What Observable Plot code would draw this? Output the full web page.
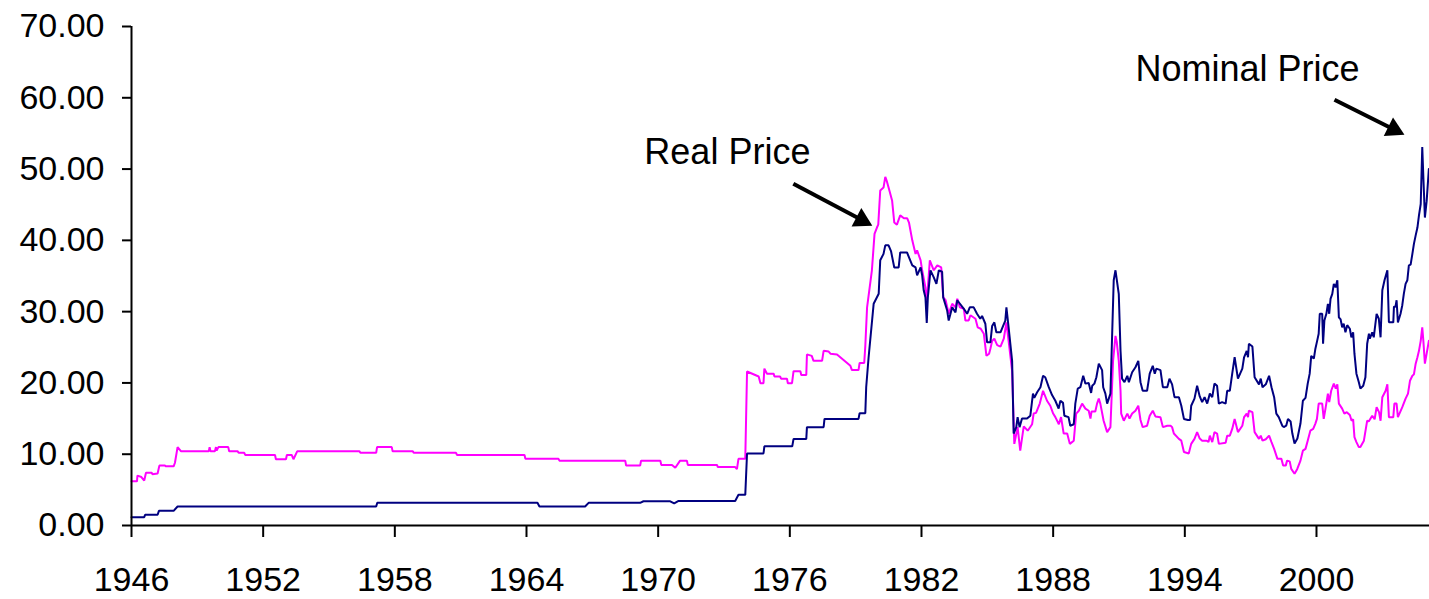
<!DOCTYPE html>
<html>
<head>
<meta charset="utf-8">
<script src="https://cdn.jsdelivr.net/npm/d3@7"></script>
<script src="https://cdn.jsdelivr.net/npm/@observablehq/plot@0.6"></script>
<style>
  html, body { margin: 0; padding: 0; background: #fff; }
  #chart { width: 1429px; height: 599px; }
</style>
</head>
<body>
<div id="chart"></div>
<script>
// ---- Data ----
const nominal = [[1946.00,1.17],[1946.58,1.17],[1946.62,1.5],[1947.19,1.5],[1947.25,2.06],[1947.92,2.06],[1948.10,2.66],[1957.15,2.66],[1957.20,3.18],[1964.50,3.18],[1964.59,2.66],[1966.67,2.66],[1966.83,3.18],[1969.18,3.18],[1969.33,3.4],[1970.55,3.4],[1970.73,3.1],[1970.93,3.45],[1973.51,3.45],[1973.66,4.3],[1973.97,4.3],[1974.05,10.1],[1974.80,10.1],[1974.84,11.1],[1976.11,11.1],[1976.17,12.15],[1976.75,12.15],[1976.78,13.8],[1977.54,13.8],[1977.58,14.95],[1979.13,14.95],[1979.18,15.75],[1979.44,15.75],[1979.48,19.4],[1979.59,23.6],[1979.82,31.1],[1980.05,32.5],[1980.12,37.2],[1980.27,38.1],[1980.35,39.3],[1980.50,39.3],[1980.61,38.5],[1980.76,36.2],[1980.96,36.2],[1981.03,38.3],[1981.34,38.3],[1981.58,36.5],[1981.73,36.2],[1981.80,35.1],[1981.96,36.2],[1982.03,35.1],[1982.10,33.0],[1982.18,32.0],[1982.24,28.4],[1982.29,32.0],[1982.41,35.8],[1982.56,34.8],[1982.68,33.9],[1982.79,35.8],[1982.94,35.6],[1982.99,32.0],[1983.17,30.15],[1983.24,28.75],[1983.40,30.6],[1983.55,29.9],[1983.63,31.6],[1983.78,31.0],[1983.93,30.4],[1984.08,29.7],[1984.20,30.6],[1984.38,30.6],[1984.53,29.7],[1984.68,29.0],[1984.76,29.4],[1984.91,28.3],[1984.99,25.7],[1985.14,25.7],[1985.22,28.0],[1985.32,28.5],[1985.41,27.1],[1985.60,27.1],[1985.72,28.0],[1985.82,28.75],[1985.87,30.6],[1985.97,27.8],[1986.13,23.1],[1986.20,12.9],[1986.32,13.8],[1986.38,15.2],[1986.47,13.8],[1986.58,15.0],[1986.81,15.0],[1986.96,15.4],[1987.08,18.5],[1987.14,17.9],[1987.27,18.7],[1987.42,19.4],[1987.54,21.0],[1987.64,20.8],[1987.80,19.4],[1987.95,18.3],[1988.10,17.5],[1988.25,16.4],[1988.33,17.5],[1988.45,17.2],[1988.51,15.4],[1988.70,15.2],[1988.78,14.0],[1988.94,14.2],[1989.01,17.1],[1989.12,19.2],[1989.24,19.4],[1989.37,21.0],[1989.47,19.9],[1989.62,20.0],[1989.73,18.6],[1989.78,19.6],[1989.88,19.9],[1989.97,20.8],[1990.08,22.7],[1990.23,21.8],[1990.28,19.4],[1990.38,18.5],[1990.46,17.1],[1990.61,18.5],[1990.76,34.4],[1990.84,35.8],[1990.99,32.5],[1991.07,24.5],[1991.14,20.6],[1991.25,20.1],[1991.38,21.0],[1991.45,20.1],[1991.60,21.5],[1991.75,22.2],[1991.88,23.1],[1991.98,20.1],[1992.08,18.9],[1992.28,18.9],[1992.40,21.3],[1992.54,22.4],[1992.63,21.3],[1992.70,22.0],[1992.89,21.8],[1993.00,19.4],[1993.20,19.4],[1993.30,20.6],[1993.42,19.8],[1993.53,18.0],[1993.73,18.0],[1993.84,16.8],[1993.96,14.95],[1994.14,14.8],[1994.24,14.8],[1994.29,16.8],[1994.44,17.8],[1994.56,19.6],[1994.68,18.1],[1994.79,17.3],[1994.90,18.0],[1995.02,17.1],[1995.14,18.5],[1995.25,18.0],[1995.35,19.9],[1995.47,19.6],[1995.55,17.1],[1995.70,17.3],[1995.86,17.1],[1995.93,18.9],[1996.05,18.9],[1996.16,21.3],[1996.27,23.6],[1996.42,20.6],[1996.62,22.0],[1996.70,23.6],[1996.82,24.5],[1996.88,23.6],[1996.92,25.5],[1997.08,25.1],[1997.18,20.8],[1997.38,19.8],[1997.46,20.6],[1997.54,19.4],[1997.69,19.8],[1997.84,21.0],[1997.95,19.4],[1998.07,18.0],[1998.17,15.7],[1998.28,15.2],[1998.44,14.0],[1998.51,13.8],[1998.62,14.0],[1998.70,14.95],[1998.82,14.6],[1998.90,12.9],[1999.00,11.5],[1999.13,12.2],[1999.27,14.3],[1999.38,17.5],[1999.50,17.9],[1999.60,19.9],[1999.69,21.3],[1999.76,23.8],[1999.88,23.4],[1999.95,24.8],[2000.03,25.9],[2000.10,26.9],[2000.15,29.7],[2000.26,29.7],[2000.30,25.5],[2000.36,28.75],[2000.45,29.7],[2000.52,31.1],[2000.58,29.7],[2000.64,31.8],[2000.72,32.5],[2000.79,33.9],[2000.87,33.4],[2000.95,34.4],[2001.02,29.2],[2001.10,28.9],[2001.17,27.8],[2001.24,28.3],[2001.32,27.1],[2001.40,28.1],[2001.52,27.6],[2001.59,26.4],[2001.67,27.1],[2001.73,24.1],[2001.82,21.3],[2001.93,20.1],[2002.00,19.2],[2002.13,19.6],[2002.23,20.8],[2002.31,25.5],[2002.39,26.9],[2002.43,26.2],[2002.54,27.1],[2002.61,26.4],[2002.74,29.7],[2002.84,29.0],[2002.92,26.4],[2003.00,33.0],[2003.10,34.4],[2003.23,35.8],[2003.30,28.5],[2003.50,28.5],[2003.53,30.7],[2003.60,30.7],[2003.65,31.6],[2003.71,28.5],[2003.83,29.7],[2003.91,30.9],[2003.98,32.5],[2004.06,33.9],[2004.14,34.4],[2004.21,36.5],[2004.29,36.6],[2004.37,38.1],[2004.44,39.5],[2004.52,40.7],[2004.60,41.8],[2004.67,43.5],[2004.75,45.1],[2004.82,53.1],[2004.87,48.9],[2004.94,43.2],[2005.02,45.5],[2005.12,50.0]];

const real = [[1946.00,6.2],[1946.25,6.2],[1946.27,7.0],[1946.45,6.8],[1946.58,6.3],[1946.66,7.4],[1946.92,7.4],[1946.95,7.2],[1947.19,7.3],[1947.27,8.4],[1947.53,8.4],[1947.56,8.3],[1947.92,8.3],[1947.98,8.8],[1948.10,11.0],[1948.26,10.4],[1949.52,10.4],[1949.56,11.0],[1949.60,10.4],[1949.80,10.4],[1949.85,11.0],[1949.88,10.5],[1949.96,11.0],[1950.41,11.0],[1950.45,10.4],[1950.84,10.4],[1950.88,10.2],[1951.14,10.2],[1951.18,9.9],[1952.54,9.9],[1952.58,9.3],[1953.04,9.3],[1953.08,9.9],[1953.30,9.9],[1953.38,9.3],[1953.55,10.4],[1956.39,10.4],[1956.43,10.2],[1957.15,10.2],[1957.19,11.0],[1957.86,11.0],[1957.90,10.4],[1958.82,10.4],[1958.86,10.2],[1960.79,10.2],[1960.83,9.9],[1963.91,9.9],[1963.95,9.35],[1965.46,9.35],[1965.50,9.1],[1968.50,9.1],[1968.54,8.4],[1969.18,8.4],[1969.22,9.1],[1970.10,9.1],[1970.14,8.5],[1970.63,8.5],[1970.78,8.1],[1971.00,9.1],[1971.31,9.1],[1971.35,8.5],[1972.68,8.5],[1972.72,8.2],[1973.51,8.2],[1973.59,7.9],[1973.66,9.35],[1973.97,9.35],[1974.05,21.6],[1974.58,20.9],[1974.66,19.96],[1974.80,19.96],[1974.84,22.0],[1974.96,21.3],[1975.26,21.3],[1975.30,20.9],[1975.56,20.9],[1975.60,20.6],[1975.87,20.6],[1975.91,19.96],[1976.10,19.96],[1976.17,21.65],[1976.48,21.65],[1976.52,21.1],[1976.75,21.1],[1976.78,24.0],[1977.00,23.8],[1977.08,23.1],[1977.47,23.1],[1977.54,24.5],[1977.77,24.4],[1977.85,24.1],[1978.15,24.0],[1978.76,22.4],[1978.83,21.8],[1979.13,21.8],[1979.18,22.8],[1979.39,22.8],[1979.44,25.2],[1979.52,30.6],[1979.74,35.8],[1979.86,40.9],[1979.97,41.8],[1980.03,42.2],[1980.12,47.0],[1980.27,47.4],[1980.35,48.9],[1980.43,48.2],[1980.50,47.4],[1980.66,45.6],[1980.76,42.5],[1980.88,42.2],[1981.03,43.5],[1981.20,43.1],[1981.35,43.1],[1981.43,42.5],[1981.58,40.0],[1981.73,38.1],[1981.80,38.6],[1981.96,37.2],[1982.03,35.8],[1982.18,33.4],[1982.23,30.8],[1982.38,37.2],[1982.56,35.8],[1982.72,36.5],[1982.90,36.2],[1982.99,32.0],[1983.10,31.6],[1983.24,29.7],[1983.40,31.1],[1983.55,30.6],[1983.63,31.8],[1983.75,30.6],[1983.93,30.4],[1984.00,28.75],[1984.15,28.75],[1984.23,29.5],[1984.46,29.0],[1984.56,27.8],[1984.70,27.6],[1984.84,26.9],[1984.96,23.8],[1985.08,24.1],[1985.14,24.8],[1985.22,25.9],[1985.32,26.2],[1985.45,25.3],[1985.60,25.1],[1985.75,26.2],[1985.87,28.5],[1985.97,25.9],[1986.13,21.7],[1986.23,11.45],[1986.38,13.8],[1986.50,10.5],[1986.66,13.9],[1986.84,13.3],[1987.04,14.2],[1987.11,15.7],[1987.22,15.8],[1987.39,17.1],[1987.54,18.9],[1987.72,17.5],[1987.87,16.8],[1988.00,15.7],[1988.10,15.2],[1988.26,14.2],[1988.36,15.2],[1988.48,12.9],[1988.64,12.9],[1988.76,11.45],[1988.94,11.9],[1989.05,15.7],[1989.17,16.1],[1989.32,17.1],[1989.47,16.4],[1989.62,16.1],[1989.70,15.0],[1989.75,16.0],[1989.92,16.0],[1990.00,17.1],[1990.08,17.8],[1990.15,17.1],[1990.30,14.7],[1990.46,13.1],[1990.61,13.8],[1990.73,23.1],[1990.84,26.6],[1990.90,25.7],[1990.99,23.1],[1991.07,18.9],[1991.10,15.7],[1991.22,14.7],[1991.30,15.2],[1991.38,15.7],[1991.48,15.0],[1991.60,15.7],[1991.75,16.1],[1991.88,16.8],[1991.98,14.8],[1992.08,13.8],[1992.28,14.0],[1992.40,15.4],[1992.54,16.1],[1992.66,15.3],[1992.89,15.2],[1993.00,13.8],[1993.20,14.0],[1993.35,14.0],[1993.42,13.8],[1993.50,12.9],[1993.73,12.15],[1993.84,11.9],[1993.96,10.3],[1994.18,10.1],[1994.29,11.45],[1994.44,12.15],[1994.56,13.1],[1994.68,12.2],[1994.79,11.9],[1995.00,11.9],[1995.08,11.7],[1995.14,12.6],[1995.25,11.7],[1995.35,13.1],[1995.47,12.9],[1995.55,11.45],[1995.86,11.6],[1995.93,12.6],[1996.05,12.6],[1996.16,13.55],[1996.27,14.95],[1996.42,13.1],[1996.62,14.0],[1996.70,15.2],[1996.82,15.7],[1996.88,15.2],[1996.92,16.1],[1997.08,15.9],[1997.18,13.1],[1997.38,12.15],[1997.46,12.6],[1997.54,11.9],[1997.69,12.1],[1997.84,12.6],[1997.95,11.7],[1998.07,10.75],[1998.22,9.35],[1998.40,9.35],[1998.48,8.4],[1998.60,8.4],[1998.66,9.1],[1998.78,9.0],[1998.85,7.95],[1999.00,7.25],[1999.12,7.9],[1999.27,9.1],[1999.38,10.5],[1999.50,10.75],[1999.60,11.9],[1999.72,13.3],[1999.85,13.55],[1999.95,14.3],[2000.02,14.95],[2000.10,17.1],[2000.26,17.1],[2000.33,14.95],[2000.41,16.4],[2000.52,18.5],[2000.58,17.3],[2000.67,18.9],[2000.79,19.9],[2000.88,19.2],[2000.95,19.8],[2001.02,17.1],[2001.17,16.4],[2001.27,15.7],[2001.38,15.9],[2001.52,15.5],[2001.60,14.7],[2001.67,14.9],[2001.73,12.4],[2001.82,11.7],[2001.93,11.0],[2002.00,11.0],[2002.16,11.9],[2002.31,14.7],[2002.38,14.6],[2002.54,15.4],[2002.65,14.9],[2002.74,16.6],[2002.85,15.9],[2002.92,14.7],[2003.00,18.0],[2003.15,18.9],[2003.23,19.8],[2003.30,15.2],[2003.50,15.2],[2003.55,17.1],[2003.65,17.1],[2003.71,15.2],[2003.91,16.6],[2004.06,17.8],[2004.17,18.5],[2004.26,20.3],[2004.37,21.0],[2004.44,21.2],[2004.52,22.7],[2004.60,23.6],[2004.67,24.5],[2004.75,25.9],[2004.82,27.8],[2004.87,25.9],[2004.94,22.7],[2005.02,24.1],[2005.12,25.9]];

const xTicks = [1946, 1952, 1958, 1964, 1970, 1976, 1982, 1988, 1994, 2000];
const yTicks = [0, 10, 20, 30, 40, 50, 60, 70];

// annotations (data units)
const labels = [
  {text: "Real Price", year: 1969.37, value: 50.75},
  {text: "Nominal Price", year: 1991.75, value: 62.39}
];
const arrows = [
  {x1: 1976.16, y1: 47.95, x2: 1979.76, y2: 42.06},
  {x1: 2000.82, y1: 59.72, x2: 2004.01, y2: 54.81}
];

// ---- Layout ----
const W = 1429, H = 599;
const mL = 131, mR = 0, mT = 26, mB = 74;
const xDomain = [1946, 2005.15];
const yDomain = [0, 70];
const kx = (W - mL - mR) / (xDomain[1] - xDomain[0]);
const ky = (H - mT - mB) / (yDomain[1] - yDomain[0]);
const font = "Arial, 'Liberation Sans', sans-serif";

const arrowMarks = [];
for (const a of arrows) {
  const dxp = (a.x2 - a.x1) * kx, dyp = -(a.y2 - a.y1) * ky;
  const len = Math.hypot(dxp, dyp);
  const ux = dxp / len, uy = dyp / len;
  const ang = Math.atan2(uy, ux) * 180 / Math.PI;
  const shaftEnd = {x: a.x2 - 14 * ux / kx, y: a.y2 + 14 * uy / ky};
  arrowMarks.push(
    Plot.link([a], {x1: "x1", y1: "y1", x2: () => shaftEnd.x, y2: () => shaftEnd.y,
      stroke: "black", strokeWidth: 4, strokeLinecap: "butt"}),
    Plot.dot([a], {x: "x2", y: "y2", symbol: "triangle", r: 7.7, fill: "black", stroke: "none",
      rotate: ang + 90, dx: -12 * ux, dy: -12 * uy})
  );
}

const chart = Plot.plot({
  width: W, height: H,
  marginLeft: mL, marginRight: mR, marginTop: mT, marginBottom: mB,
  style: {fontFamily: font, fontSize: "34px", background: "white", color: "black", overflow: "visible"},
  x: {type: "linear", domain: xDomain},
  y: {domain: yDomain},
  marks: [
    Plot.axisY({ticks: yTicks, tickFormat: d3.format(".2f"), tickSize: 9, tickPadding: 18,
      strokeWidth: 2, fontSize: 34, label: null, fill: "black"}),
    Plot.axisX({ticks: xTicks, tickFormat: d => String(d), tickSize: 12, tickPadding: 29,
      strokeWidth: 2, fontSize: 34, label: null, fill: "black"}),
    Plot.line(real, {x: d => d[0], y: d => d[1], stroke: "#FF00FF", strokeWidth: 2, strokeLinejoin: "miter"}),
    Plot.line(nominal, {x: d => d[0], y: d => d[1], stroke: "#000080", strokeWidth: 2, strokeLinejoin: "miter"}),
    Plot.ruleX([xDomain[0]], {y1: yDomain[0], y2: yDomain[1], stroke: "black", strokeWidth: 2}),
    Plot.ruleY([0], {stroke: "black", strokeWidth: 2}),
    Plot.text(labels, {x: "year", y: "value", text: "text", textAnchor: "start", lineAnchor: "bottom",
      fontSize: 36, fill: "black"}),
    ...arrowMarks
  ]
});
document.getElementById("chart").appendChild(chart);
</script>
</body>
</html>
